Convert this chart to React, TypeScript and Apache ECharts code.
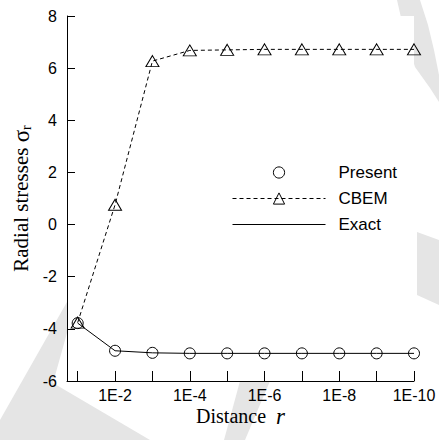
import React, { useEffect, useRef } from 'react';
import * as echarts from 'echarts';

// Sample distances r (log decades) and radial stress results
const distances = [1e-1, 1e-2, 1e-3, 1e-4, 1e-5, 1e-6, 1e-7, 1e-8, 1e-9, 1e-10];
const presentValues = [-3.78, -4.84, -4.92, -4.94, -4.94, -4.94, -4.94, -4.94, -4.94, -4.94];
const cbemValues = [-3.76, 0.76, 6.27, 6.68, 6.7, 6.72, 6.72, 6.72, 6.72, 6.72];
const exactValues = [-3.78, -4.84, -4.92, -4.94, -4.94, -4.94, -4.94, -4.94, -4.94, -4.94];

// Decade exponents that carry a tick, and those that carry a label
const tickDecades = [1, 2, 3, 4, 5, 6, 7, 8, 9, 10];
const labelDecades = [2, 4, 6, 8, 10];

const SANS = "'Liberation Sans', Arial, Helvetica, sans-serif";
const SERIF = "'Liberation Serif', 'Times New Roman', Times, serif";

// x position = decade exponent of r (r = 10^-x)
const toDecade = (r: number) => Math.round(-Math.log10(r) * 1000) / 1000;
const pairs = (vals: number[]) => distances.map((r, i) => [toDecade(r), vals[i]]);

// Faint background shapes behind the plotting area
const shade = '#e5e5e5';
const backdrop = [
  [[84, 272], [53, 383], [150, 440], [0, 440], [0, 420]],
  [[240, 381], [270, 381], [245, 440], [224, 440]],
  [[397, 0], [420, 0], [428, 25], [434, 50], [439, 75], [439, 102], [430, 88], [415, 67], [405, 35]],
  [[417, 232], [439, 240], [439, 305], [417, 295]],
];

export default function App() {
  const ref = useRef<HTMLDivElement>(null);

  useEffect(() => {
    if (!ref.current) return;
    const chart = echarts.init(ref.current, null, { renderer: 'svg' });
    const markerStyle = { color: 'rgba(0,0,0,0)', borderColor: '#000', borderWidth: 1 };

    chart.setOption({
      animation: false,
      backgroundColor: '#fff',
      graphic: backdrop.map((pts) => ({
        type: 'polygon',
        z: -100,
        silent: true,
        shape: { points: pts },
        style: { fill: shade },
      })),
      grid: {
        left: 67,
        right: 25,
        top: 16,
        bottom: 59,
        show: true,
        backgroundColor: '#fff',
        borderWidth: 0,
      },
      legend: {
        orient: 'vertical',
        left: 232,
        top: 164,
        padding: 0,
        itemWidth: 93,
        itemHeight: 14,
        itemGap: 9,
        selectedMode: false,
        textStyle: { fontFamily: SANS, fontSize: 17, color: '#000', padding: [0, 0, 0, 8] },
        lineStyle: { width: 1 },
        itemStyle: { borderWidth: 1 },
        data: [
          { name: 'Present', lineStyle: { opacity: 0, width: 0 } },
          { name: 'CBEM' },
          { name: 'Exact', itemStyle: { opacity: 0 } },
        ],
      },
      xAxis: {
        type: 'value',
        min: 0.714,
        max: 10,
        name: '{a|Distance}{b|  }{i|r}',
        nameLocation: 'middle',
        nameGap: 25,
        nameMoveOverlap: false,
        nameTextStyle: {
          color: '#000',
          rich: {
            a: { fontFamily: SERIF, fontSize: 20, lineHeight: 20, color: '#000' },
            b: { fontFamily: SERIF, fontSize: 20, lineHeight: 20 },
            i: { fontFamily: SERIF, fontSize: 23, lineHeight: 20, fontStyle: 'italic', color: '#000' },
          },
        },
        axisLine: { show: true, onZero: false, lineStyle: { color: '#000', width: 1 } },
        axisTick: {
          show: true,
          inside: true,
          length: 10,
          customValues: tickDecades,
          lineStyle: { color: '#000', width: 1 },
        },
        axisLabel: {
          customValues: labelDecades,
          formatter: (v: number) => `1E-${Math.round(v)}`,
          fontFamily: SANS,
          fontSize: 16,
          lineHeight: 17,
          color: '#000',
          margin: 6,
        },
        splitLine: { show: false },
      },
      yAxis: {
        type: 'value',
        min: -6,
        max: 8,
        interval: 2,
        name: '{a|Radial stresses }{s|σ}{r|r}',
        nameLocation: 'middle',
        nameGap: 34,
        nameMoveOverlap: false,
        nameRotate: 90,
        nameTextStyle: {
          color: '#000',
          rich: {
            a: { fontFamily: SERIF, fontSize: 21, lineHeight: 24, color: '#000' },
            s: { fontFamily: SERIF, fontSize: 23, lineHeight: 24, color: '#000' },
            r: { fontFamily: SERIF, fontSize: 14, lineHeight: 16, verticalAlign: 'bottom', color: '#000' },
          },
        },
        axisLine: { show: true, lineStyle: { color: '#000', width: 1 } },
        axisTick: { show: true, inside: true, length: 8, lineStyle: { color: '#000', width: 1 } },
        axisLabel: { fontFamily: SANS, fontSize: 16, color: '#000', margin: 10 },
        splitLine: { show: false },
      },
      series: [
        {
          name: 'Present',
          type: 'line',
          data: pairs(presentValues),
          symbol: 'circle',
          symbolSize: 11,
          lineStyle: { opacity: 0, width: 0, color: '#000' },
          itemStyle: markerStyle,
          z: 3,
        },
        {
          name: 'CBEM',
          type: 'line',
          data: pairs(cbemValues),
          symbol: 'triangle',
          symbolSize: [13, 11],
          lineStyle: { color: '#000', width: 1, type: [4, 3] },
          itemStyle: markerStyle,
          z: 2,
        },
        {
          name: 'Exact',
          type: 'line',
          data: pairs(exactValues),
          symbol: 'none',
          lineStyle: { color: '#000', width: 1 },
          itemStyle: { color: '#000' },
          z: 2,
        },
      ],
    });

    return () => chart.dispose();
  }, []);

  return (
    <div
      ref={ref}
      style={{ position: 'absolute', left: 0, top: 0, width: 439, height: 440 }}
    />
  );
}
